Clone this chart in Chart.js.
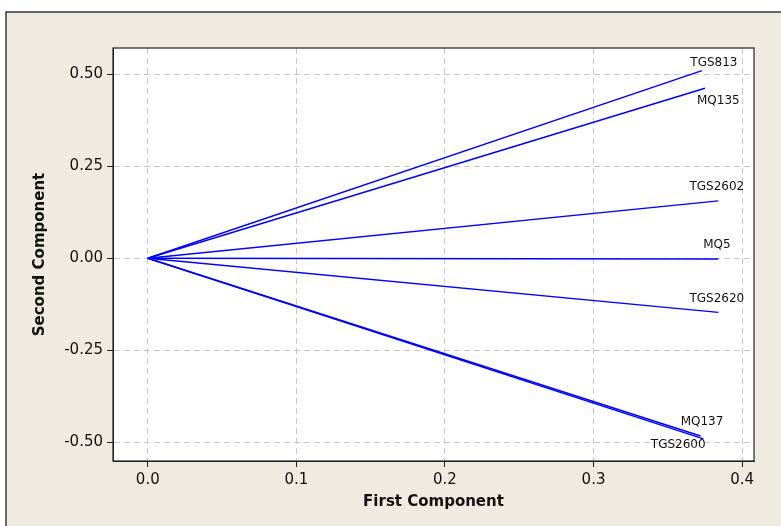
<!DOCTYPE html>
<html>
<head>
<meta charset="utf-8">
<script src="https://cdn.jsdelivr.net/npm/chart.js@4/dist/chart.umd.min.js"></script>
<style>
html,body{margin:0;padding:0;background:#fff;}
#wrap{width:781px;height:526px;position:relative;}
</style>
</head>
<body>
<div id="wrap"><canvas id="c" width="781" height="526"></canvas></div>
<script>
// Data
const sensors = ['TGS813','MQ135','TGS2602','MQ5','TGS2620','MQ137','TGS2600'];
const firstComponent  = [0.373, 0.375, 0.384, 0.384, 0.384, 0.372, 0.374];
const secondComponent = [0.510, 0.462, 0.156, -0.002, -0.147, -0.483, -0.491];
const labelX = [0.381, 0.384, 0.383, 0.383, 0.383, 0.373, 0.357];
const labelY = [0.532, 0.429, 0.195, 0.036, -0.111, -0.445, -0.506];
const xTicks = [0.0, 0.1, 0.2, 0.3, 0.4];
const yTicks = [-0.50, -0.25, 0.00, 0.25, 0.50];
const xTitle = 'First Component';
const yTitle = 'Second Component';

const FONT = "'DejaVu Sans', Verdana, sans-serif";

const datasets = sensors.map((s, i) => ({
  label: s,
  data: [{x: 0, y: 0}, {x: firstComponent[i], y: secondComponent[i]}],
  showLine: true,
  borderColor: '#0000ff',
  borderWidth: 1.4,
  pointRadius: 0,
  fill: false
}));

const framePlugin = {
  id: 'frame',
  beforeDraw(chart) {
    const ctx = chart.ctx;
    ctx.save();
    ctx.fillStyle = '#ffffff';
    ctx.fillRect(0, 0, chart.width, chart.height);
    ctx.fillStyle = '#efebe1';
    ctx.fillRect(6, 12, chart.width - 6, chart.height - 12);
    ctx.strokeStyle = '#3a3a3a';
    ctx.lineWidth = 1.5;
    ctx.beginPath();
    ctx.moveTo(6, chart.height);
    ctx.lineTo(6, 12);
    ctx.lineTo(chart.width, 12);
    ctx.stroke();
    const a = chart.chartArea;
    ctx.fillStyle = '#ffffff';
    ctx.fillRect(a.left, a.top, a.right - a.left, a.bottom - a.top);
    ctx.restore();
  },
  afterDatasetsDraw(chart) {
    const ctx = chart.ctx;
    const xs = chart.scales.x, ys = chart.scales.y;
    const a = chart.chartArea;
    ctx.save();
    ctx.font = '12px ' + FONT;
    ctx.fillStyle = '#111';
    ctx.textAlign = 'center';
    ctx.textBaseline = 'middle';
    sensors.forEach((s, i) => {
      ctx.fillText(s, xs.getPixelForValue(labelX[i]), ys.getPixelForValue(labelY[i]));
    });
    ctx.strokeStyle = '#222';
    ctx.lineWidth = 1.2;
    ctx.strokeRect(a.left, a.top, a.right - a.left, a.bottom - a.top);
    // axis titles
    ctx.font = 'bold 15px ' + FONT;
    ctx.fillStyle = '#111';
    ctx.fillText(xTitle, (a.left + a.right) / 2, 502);
    ctx.translate(40, (a.top + a.bottom) / 2);
    ctx.rotate(-Math.PI / 2);
    ctx.fillText(yTitle, 0, 0);
    ctx.restore();
  }
};

new Chart(document.getElementById('c'), {
  type: 'scatter',
  data: { datasets },
  plugins: [framePlugin],
  options: {
    responsive: false,
    animation: false,
    devicePixelRatio: 1,
    layout: { padding: { left: 0, top: 48, right: 27, bottom: 0 } },
    plugins: { legend: { display: false }, tooltip: { enabled: false } },
    scales: {
      x: {
        type: 'linear',
        min: -0.0234,
        max: 0.408,
        afterBuildTicks(scale) { scale.ticks = xTicks.map(v => ({ value: v })); },
        afterFit(scale) { scale.height = 65; },
        ticks: {
          callback: v => Number(v).toFixed(1),
          font: { family: FONT, size: 15 },
          color: '#111',
          padding: 4,
          maxRotation: 0,
          autoSkip: false
        },
        grid: { color: '#c8c8c8', lineWidth: 1, tickColor: '#222', tickLength: 6, drawTicks: true },
        border: { color: '#222', width: 1, dash: [6, 4] },
        title: { display: false }
      },
      y: {
        type: 'linear',
        min: -0.551,
        max: 0.5715,
        afterBuildTicks(scale) { scale.ticks = yTicks.map(v => ({ value: v })); },
        afterFit(scale) { scale.width = 113; },
        ticks: {
          callback: v => Number(v).toFixed(2),
          font: { family: FONT, size: 15 },
          color: '#111',
          padding: 4,
          autoSkip: false
        },
        grid: { color: '#c8c8c8', lineWidth: 1, tickColor: '#222', tickLength: 6, drawTicks: true },
        border: { color: '#222', width: 1, dash: [6, 4] },
        title: { display: false }
      }
    }
  }
});
</script>
</body>
</html>
